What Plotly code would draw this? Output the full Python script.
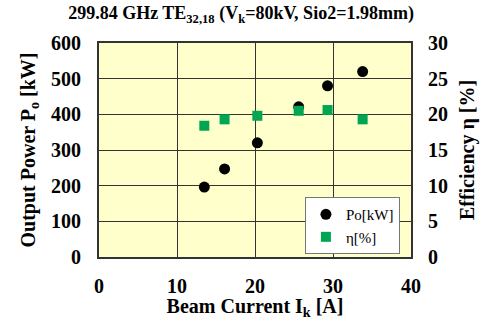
import plotly.graph_objects as go

current = [13.5, 16.1, 20.3, 25.6, 29.3, 33.8]
power = [196, 247, 320, 421, 480, 520]
eff_current = [13.5, 16.1, 20.3, 25.6, 29.3, 33.8]
efficiency = [18.4, 19.3, 19.8, 20.5, 20.6, 19.3]

font = "Liberation Serif, Times New Roman, serif"
tickf = dict(size=20, family=font, weight="bold", color="black")
titf = dict(size=20, family=font, weight="bold", color="black")

fig = go.Figure()
fig.add_trace(go.Scatter(x=current, y=power, mode="markers", name="Po[kW]",
                         marker=dict(symbol="circle", size=11, color="black"), yaxis="y"))
fig.add_trace(go.Scatter(x=eff_current, y=efficiency, mode="markers", name="η[%]",
                         marker=dict(symbol="square", size=10, color="#00A651"), yaxis="y2"))

fig.update_layout(
    width=482, height=320,
    margin=dict(l=99, r=71, t=43, b=63, autoexpand=False),
    paper_bgcolor="white", plot_bgcolor="#FFFFCC",
    font=dict(family=font, color="black"),
    title=dict(text="<b>299.84 GHz TE<sub>32,18</sub> (V<sub>k</sub>=80kV, Sio2=1.98mm)</b>",
               x=0.5, xanchor="center", yref="container", y=0.96, yanchor="middle",
               font=dict(size=18, family=font, color="black")),
    xaxis=dict(range=[0, 40], dtick=10, showgrid=True, gridcolor="#333333", gridwidth=1,
               showline=True, linecolor="#333333", linewidth=2, mirror=True, zeroline=False,
               ticks="", ticklabelstandoff=10, tickfont=tickf,
               title=dict(text="<b>Beam Current I<sub>k</sub> [A]</b>", font=titf, standoff=0)),
    yaxis=dict(range=[0, 600], dtick=100, showgrid=True, gridcolor="#333333", gridwidth=1,
               showline=True, linecolor="#333333", linewidth=2, mirror=True, zeroline=False,
               ticks="", ticklabelstandoff=12, tickfont=tickf,
               title=dict(text="<b>Output Power P<sub>o</sub> [kW]</b>", font=titf, standoff=10)),
    yaxis2=dict(range=[0, 30], dtick=5, overlaying="y", side="right", showgrid=False,
                zeroline=False, ticks="", ticklabelstandoff=16, tickfont=tickf,
                title=dict(text="<b>Efficiency η [%]</b>", font=titf, standoff=12)),
    legend=dict(x=0.66, y=0.28, xanchor="left", yanchor="top", bgcolor="white",
                bordercolor="#777777", borderwidth=1, font=dict(size=15, family=font),
                itemwidth=30, tracegroupgap=0),
    showlegend=True,
)
fig.write_html("out.html", config={"displayModeBar": False},
               post_script="document.body.style.margin='0';document.body.style.overflow='hidden';window.scrollTo(0,0);")
